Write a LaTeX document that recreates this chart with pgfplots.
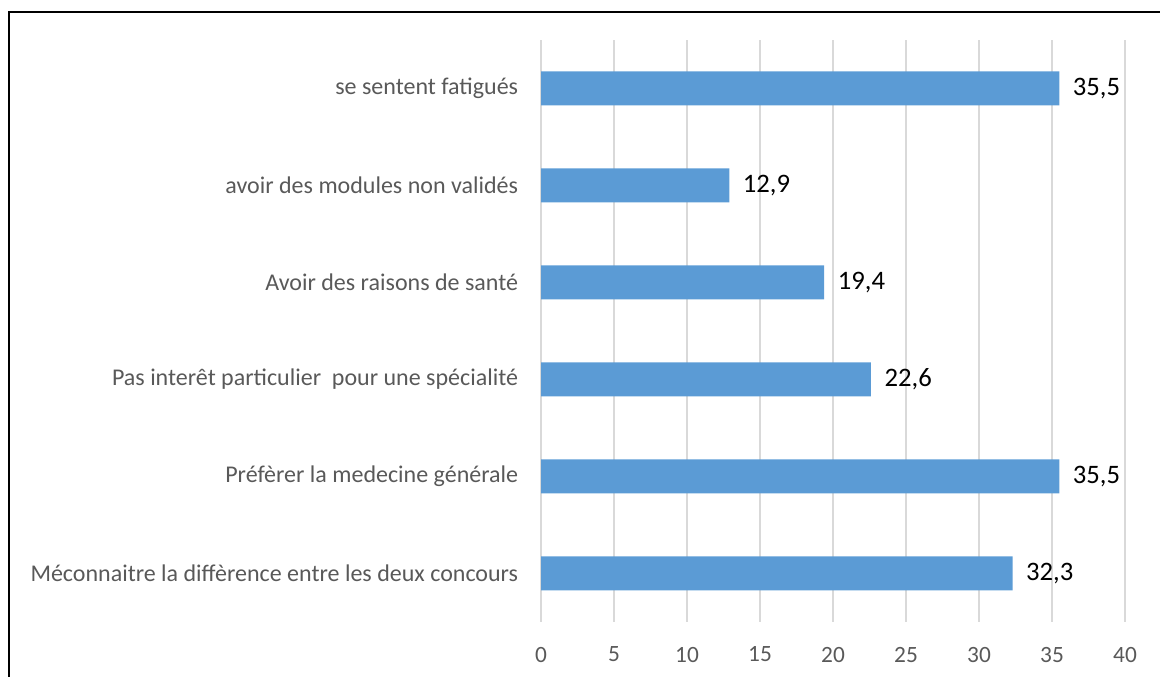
\documentclass[border=0pt]{standalone}
\usepackage{fontspec}
\setmainfont{Carlito}
\usepackage{pgfplots}
\pgfplotsset{compat=1.18}
\definecolor{barblue}{HTML}{5B9BD5}
\definecolor{gridgray}{HTML}{D9D9D9}
\definecolor{labgray}{HTML}{595959}
\begin{document}
\begin{tikzpicture}
\useasboundingbox (0,0) rectangle (870pt,507.75pt);
\draw[line width=1.5pt, black] (6.75pt,0) -- (6.75pt,498.75pt) -- (870pt,498.75pt);
\begin{axis}[
  at={(405.75pt,41.25pt)}, anchor=south west,
  scale only axis, width=438pt, height=436.5pt,
  xbar, bar width=25.5pt,
  xmin=0, xmax=40, ymin=-0.5, ymax=5.5,
  xtick={0,5,...,40},
  ytick={0,1,2,3,4,5},
  yticklabels={M\'econnaitre la diff\`erence entre les deux concours,
    Pr\'ef\`erer la medecine g\'en\'erale,
    Pas inter\^et particulier\ \ pour une sp\'ecialit\'e,
    Avoir des raisons de sant\'e,
    avoir des modules non valid\'es,
    se sentent fatigu\'es},
  xmajorgrids, grid style={gridgray, line width=1.5pt},
  axis line style={draw=none},
  major tick length=0pt,
  /pgf/number format/assume math mode=true,
  xticklabel style={font=\fontsize{17.5}{19}\selectfont, text=labgray, inner sep=0pt, anchor=north, yshift=-18.5pt},
  yticklabel style={font=\fontsize{18}{20}\selectfont, text=labgray, inner sep=0pt, anchor=east, xshift=-17pt},
  clip=false,
  point meta=x,
  nodes near coords={\pgfmathprintnumber[fixed,fixed zerofill,precision=1,use comma,assume math mode=true]{\pgfplotspointmeta}},
  every node near coord/.append style={font=\fontsize{20}{22}\selectfont, text=black, anchor=west, inner sep=0pt, xshift=10pt},
]
\addplot[fill=barblue, draw=none] coordinates {
  (32.3,0) (35.5,1) (22.6,2) (19.4,3) (12.9,4) (35.5,5)
};
\end{axis}
\end{tikzpicture}
\end{document}
